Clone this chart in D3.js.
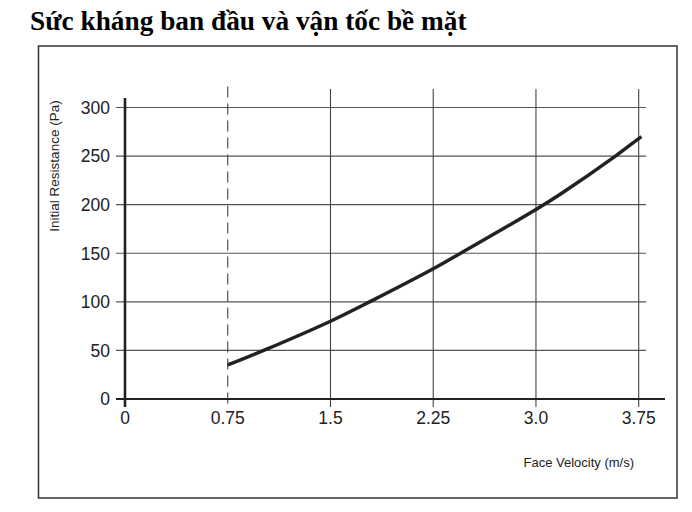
<!DOCTYPE html>
<html>
<head>
<meta charset="utf-8">
<script src="https://cdn.jsdelivr.net/npm/d3@7"></script>
<style>
  body { margin: 0; background: #fff; }
  svg { display: block; }
</style>
</head>
<body>
<div id="main"></div>
<script>
// data
const velocity = [0.75, 1.03, 1.5, 1.8, 2.25, 2.45, 3.0, 3.18, 3.58, 3.75, 3.77];
const resistance = [35, 51, 80, 101, 134, 150, 195, 211, 250, 268, 270];
const xTicks = [0, 0.75, 1.5, 2.25, 3.0, 3.75];
const xTickLabels = ["0", "0.75", "1.5", "2.25", "3.0", "3.75"];
const yTicks = [0, 50, 100, 150, 200, 250, 300];
const dashedAt = 0.75;

const ctx = {
    w: 692,
    h: 512,
    title: "Sức kháng ban đầu và vận tốc bề mặt",
    xLabel: "Face Velocity (m/s)",
    yLabel: "Initial Resistance (Pa)"
};

function createViz() {
    let svg = d3.select("#main").append("svg")
        .attr("width", ctx.w)
        .attr("height", ctx.h);

    let x = d3.scaleLinear().domain([0, 3.75]).range([125, 638.7]);
    let y = d3.scaleLinear().domain([0, 300]).range([399, 107.5]);

    // title
    svg.append("text")
        .attr("x", 30)
        .attr("y", 29.5)
        .attr("font-family", "'Liberation Serif', 'Times New Roman', serif")
        .attr("font-weight", "bold")
        .attr("font-size", 27.3)
        .attr("fill", "#000")
        .text(ctx.title);

    // frame
    svg.append("rect")
        .attr("x", 38.5)
        .attr("y", 46)
        .attr("width", 638.5)
        .attr("height", 452)
        .attr("fill", "none")
        .attr("stroke", "#333")
        .attr("stroke-width", 1.5);

    let g = svg.append("g");

    // horizontal grid
    g.selectAll("line.hgrid")
        .data(yTicks.filter(d => d > 0))
        .enter()
        .append("line")
            .attr("class", "hgrid")
            .attr("x1", 116)
            .attr("x2", 646)
            .attr("y1", d => y(d))
            .attr("y2", d => y(d))
            .attr("stroke", "#555")
            .attr("stroke-width", 1.2);

    // vertical grid
    g.selectAll("line.vgrid")
        .data(xTicks.filter(d => d > 0))
        .enter()
        .append("line")
            .attr("class", "vgrid")
            .attr("x1", d => x(d))
            .attr("x2", d => x(d))
            .attr("y1", d => d == dashedAt ? 86.5 : 89)
            .attr("y2", 407)
            .attr("stroke", "#444")
            .attr("stroke-width", 1.1)
            .attr("stroke-dasharray", d => d == dashedAt ? "11,6" : null);

    // axes lines
    g.append("line")
        .attr("x1", 116).attr("x2", 665)
        .attr("y1", y(0)).attr("y2", y(0))
        .attr("stroke", "#222")
        .attr("stroke-width", 2.2);
    g.append("line")
        .attr("x1", x(0)).attr("x2", x(0))
        .attr("y1", 98).attr("y2", 407)
        .attr("stroke", "#222")
        .attr("stroke-width", 2.6);

    // tick labels
    g.selectAll("text.xt")
        .data(xTicks)
        .enter()
        .append("text")
            .attr("class", "xt")
            .attr("x", d => x(d))
            .attr("y", 424)
            .attr("text-anchor", "middle")
            .attr("font-family", "'Liberation Sans', Arial, sans-serif")
            .attr("font-size", 17.5)
            .attr("fill", "#222")
            .text((d, i) => xTickLabels[i]);

    g.selectAll("text.yt")
        .data(yTicks)
        .enter()
        .append("text")
            .attr("class", "yt")
            .attr("x", 110)
            .attr("y", d => y(d))
            .attr("dy", "0.36em")
            .attr("text-anchor", "end")
            .attr("font-family", "'Liberation Sans', Arial, sans-serif")
            .attr("font-size", 17.5)
            .attr("fill", "#222")
            .text(d => d);

    // axis titles
    svg.append("text")
        .attr("x", 634)
        .attr("y", 467)
        .attr("text-anchor", "end")
        .attr("font-family", "'Liberation Sans Narrow', 'Arial Narrow', sans-serif")
        .attr("font-size", 13)
        .attr("fill", "#222")
        .text(ctx.xLabel);

    svg.append("text")
        .attr("transform", "translate(59,166) rotate(-90)")
        .attr("text-anchor", "middle")
        .attr("font-family", "'Liberation Sans Narrow', 'Arial Narrow', sans-serif")
        .attr("font-size", 13.5)
        .attr("fill", "#222")
        .text(ctx.yLabel);

    // curve
    let pts = velocity.map((v, i) => [v, resistance[i]]);
    let line = d3.line()
        .x(d => x(d[0]))
        .y(d => y(d[1]))
        .curve(d3.curveCatmullRom.alpha(0.5));
    g.append("path")
        .datum(pts)
        .attr("d", line)
        .attr("fill", "none")
        .attr("stroke", "#222")
        .attr("stroke-width", 3.5);
}

createViz();
</script>
</body>
</html>
